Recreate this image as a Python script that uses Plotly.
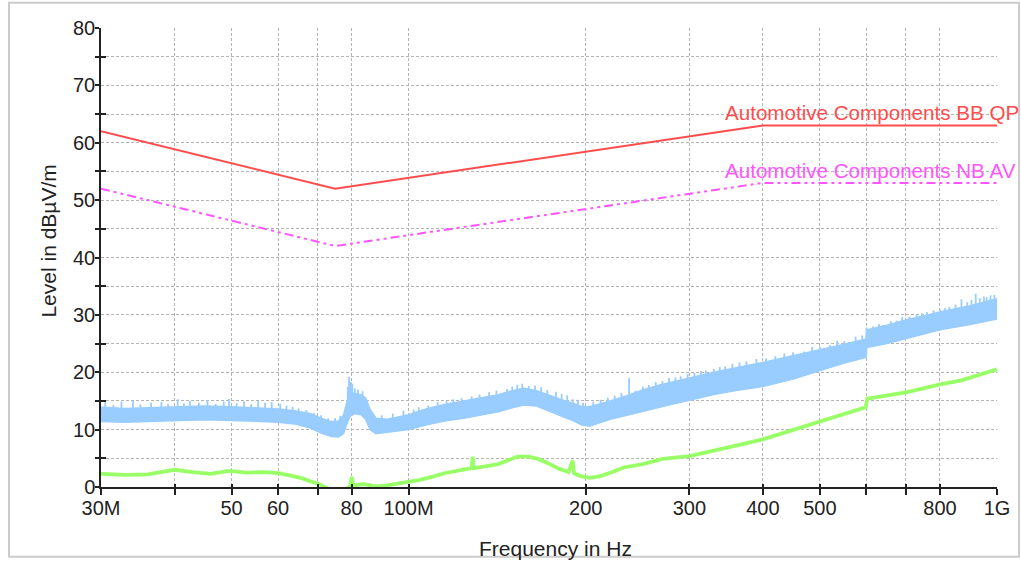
import numpy as np
import plotly.graph_objects as go

# ---------------- data (frequencies in MHz, levels in dBµV/m) ----------------
limit_f = [30, 75, 400, 1000]
bb_qp = [62, 52, 63, 63]
nb_av = [52, 42, 53, 53]

blue_f = [30, 33, 36, 40, 45, 50, 55, 60, 64, 68, 71, 74, 76, 77.5, 78.5, 79.5, 81, 83,
          84.5, 86, 88, 92, 96, 100, 107, 115, 124, 133, 142, 150, 157, 165, 173, 182,
          190, 197, 203, 210, 220, 235, 250, 265, 280, 300, 330, 360, 400, 450, 500,
          550, 599, 601, 650, 700, 750, 800, 900, 1000]
blue_lo = [11.4, 11.3, 11.4, 11.6, 11.7, 11.6, 11.5, 11.3, 11.0, 10.3, 9.4, 8.8, 8.7, 9.3,
           11.0, 12.3, 12.8, 12.6, 11.8, 10.0, 9.3, 9.5, 9.8, 10.0, 10.8, 11.5, 12.0, 12.6,
           13.1, 13.8, 14.3, 14.1, 13.3, 12.4, 11.6, 10.8, 10.6, 11.1, 11.8, 12.5, 13.2,
           13.8, 14.4, 15.1, 16.1, 16.8, 17.5, 18.8, 20.3, 21.6, 22.6, 24.3, 25.0, 25.9,
           26.7, 27.4, 28.3, 29.3]
blue_hi = [13.9, 13.7, 13.8, 14.0, 14.1, 14.0, 13.8, 13.6, 13.3, 12.8, 12.0, 11.4, 11.5,
           12.5, 14.8, 16.5, 16.3, 16.1, 15.5, 13.5, 12.0, 11.8, 12.2, 12.6, 13.6, 14.4,
           15.0, 15.6, 16.1, 16.8, 17.2, 16.8, 16.0, 15.2, 14.6, 14.0, 14.0, 14.4, 15.0,
           15.9, 16.9, 17.7, 18.3, 19.0, 20.0, 20.8, 21.7, 22.9, 23.9, 24.9, 25.8, 27.4,
           28.2, 29.1, 29.8, 30.5, 31.6, 32.8]

spike_f = [30.5, 31.5, 32.5, 34, 35, 36.5, 38, 39, 40.5, 41.5, 42.5, 44, 45.5, 47, 48.5,
           49.5, 51, 52.5, 54, 55.5, 57, 58.5, 60.5, 62, 63.5, 65, 67, 69, 71, 73, 75, 76.5,
           78.8, 79.2, 79.7, 80.2, 81, 82, 83.5,
           90, 94, 98, 102, 104, 108, 112, 116, 119, 123, 128, 132, 137, 141, 147, 150, 153,
           156, 160, 164, 168, 172, 178, 182, 186, 190, 194, 198,
           206, 212, 218, 224, 230, 237, 243, 250, 256, 263, 270, 277, 284, 290, 298, 306,
           314, 320, 330, 338, 345, 355, 365, 375, 390, 405, 420, 435, 450, 470, 485, 500,
           520, 535, 550, 560, 575, 590,
           600, 615, 630, 640, 660, 675, 690, 710, 730, 745, 760, 780, 800, 815, 830, 850,
           870, 890, 905, 920, 935, 950, 960, 975, 990]
spike_top = [14.8, 14.3, 14.9, 15.0, 14.4, 14.7, 14.8, 14.5, 15.3, 14.6, 15.0, 14.7, 15.1,
             14.5, 14.9, 15.4, 14.6, 14.9, 14.4, 15.0, 14.7, 14.8, 14.5, 14.2, 14.0, 13.7,
             13.4, 12.9, 12.5, 12.0, 12.0, 12.4,
             17.5, 19.2, 18.3, 18.0, 17.2, 17.0, 16.7,
             12.5, 12.8, 13.3, 13.5, 13.9, 14.2, 14.8, 15.0, 15.3, 15.5, 15.8, 16.1, 16.5,
             16.8, 17.1, 17.5, 17.8, 18.0, 17.6, 17.7, 17.4, 16.9, 16.6, 16.2, 16.0, 15.3,
             15.2, 14.7,
             14.8, 15.2, 15.6, 15.9, 16.4, 19.0, 16.8, 17.5, 17.8, 18.3, 18.5, 19.0, 19.1,
             19.3, 19.7, 19.9, 20.2, 20.3, 20.6, 20.9, 21.0, 21.5, 21.7, 21.9, 22.3, 22.4,
             22.8, 23.3, 23.5, 23.6, 24.4, 24.5, 24.7, 25.5, 25.4, 25.3, 26.2, 26.4,
             27.8, 28.0, 28.4, 28.3, 28.9, 29.0, 29.6, 29.7, 30.0, 30.3, 30.5, 30.8, 31.0,
             31.2, 31.4, 31.8, 32.7, 32.2, 32.6, 33.7, 32.9, 33.2, 33.1, 33.4, 33.5]

green_f = [30, 33, 36, 40, 43, 46, 49.5, 53, 57, 60, 63, 66, 68, 70, 72, 74, 78, 79.6, 80,
           80.4, 84, 88, 92, 96, 100, 104, 110, 115, 122, 128, 128.5, 129, 135, 142, 148,
           153, 160, 166, 172, 180, 187, 190, 191, 196, 203, 212, 222, 232, 250, 270, 300,
           330, 360, 400, 450, 500, 550, 598, 602, 650, 700, 750, 800, 870, 930, 1000]
green_v = [2.3, 2.1, 2.2, 3.0, 2.6, 2.3, 2.8, 2.5, 2.6, 2.4, 2.0, 1.5, 1.0, 0.6, 0.0, -0.6,
           -0.6, 0.2, 1.8, 0.3, 0.5, 0.1, 0.3, 0.6, 0.9, 1.2, 1.8, 2.4, 2.9, 3.3, 5.3, 3.3,
           3.6, 4.0, 4.7, 5.3, 5.3, 4.9, 4.2, 3.2, 2.6, 4.6, 2.4, 1.9, 1.6, 1.9, 2.6, 3.4,
           4.0, 4.9, 5.4, 6.3, 7.2, 8.3, 9.9, 11.3, 12.7, 13.9, 15.4, 15.9, 16.5, 17.2, 17.9,
           18.6, 19.5, 20.5]

x_tick_f = [30, 40, 50, 60, 70, 80, 100, 200, 300, 400, 500, 600, 700, 800, 1000]
x_tick_text = ["30M", "", "50", "60", "", "80", "100M", "200", "300", "400", "500", "", "",
               "800", "1G"]
y_ticks = list(range(0, 81, 5))
y_tick_text = [str(v) if v % 10 == 0 else "" for v in y_ticks]

label_bb = "Automotive Components BB QP"
label_nb = "Automotive Components NB AV"

# ---------------- figure ----------------
MHZ = 1e6
FONT = "Liberation Sans, Arial, sans-serif"
BLUE = "#99ccff"
GREEN = "#99ff66"
RED = "#ff4d4d"
MAG = "#ff55ff"


def hz(lst):
    return [v * MHZ for v in lst]


fig = go.Figure()

# blue peak band
fig.add_trace(go.Scatter(x=hz(blue_f), y=blue_lo, mode="lines",
                         line=dict(color=BLUE, width=1.5), showlegend=False,
                         hoverinfo="skip"))
fig.add_trace(go.Scatter(x=hz(blue_f), y=blue_hi, mode="lines", fill="tonexty",
                         fillcolor=BLUE, line=dict(color=BLUE, width=1.5),
                         showlegend=False, hoverinfo="skip"))
# spikes on blue trace
sx, sy = [], []
for f, top in zip(spike_f, spike_top):
    base = float(np.interp(np.log10(f), np.log10(blue_f), blue_hi))
    sx += [f * MHZ, f * MHZ, None]
    sy += [base - 1.0, top, None]
fig.add_trace(go.Scatter(x=sx, y=sy, mode="lines", line=dict(color=BLUE, width=1.8),
                         showlegend=False, hoverinfo="skip", connectgaps=False))

# green average trace
fig.add_trace(go.Scatter(x=hz(green_f), y=green_v, mode="lines",
                         line=dict(color=GREEN, width=3.8), showlegend=False))

# limit lines
fig.add_trace(go.Scatter(x=hz(limit_f), y=bb_qp, mode="lines",
                         line=dict(color=RED, width=2), showlegend=False))
fig.add_trace(go.Scatter(x=hz(limit_f), y=nb_av, mode="lines",
                         line=dict(color=MAG, width=2, dash="9px,4px,3px,4px,3px,4px"),
                         showlegend=False))

xr = [np.log10(30 * MHZ), np.log10(1000 * MHZ)]
grid = dict(showgrid=True, gridcolor="#b4b4b4", gridwidth=1, griddash="3px,2px")

fig.update_layout(
    width=1021, height=562,
    margin=dict(l=101, r=24, t=28, b=75),
    paper_bgcolor="white", plot_bgcolor="white",
    font=dict(family=FONT, size=20, color="#222222"),
    xaxis=dict(type="log", range=xr, tickvals=hz(x_tick_f), ticktext=x_tick_text,
               ticks="outside", ticklen=6, tickcolor="#222", tickwidth=1.5,
               showline=True, linecolor="#222", linewidth=1.5, zeroline=False,
               tickfont=dict(size=20), ticklabelstandoff=-4, **grid),
    yaxis=dict(range=[0, 80], tickvals=y_ticks, ticktext=y_tick_text,
               ticks="outside", ticklen=4, tickcolor="#222", tickwidth=1.5,
               showline=True, linecolor="#222", linewidth=1.5, zeroline=False,
               tickfont=dict(size=20), ticklabelstandoff=-4, **grid),
    xaxis2=dict(type="log", range=xr, overlaying="x", anchor="y", side="bottom",
                tickvals=hz(x_tick_f), ticks="inside", ticklen=3, tickcolor="#222",
                tickwidth=1.5, showticklabels=False, showgrid=False, zeroline=False,
                showline=False),
    yaxis2=dict(range=[0, 80], overlaying="y", anchor="x", side="left",
                tickvals=[v for v in y_ticks if v % 10 == 5], ticks="inside", ticklen=5,
                tickcolor="#222", tickwidth=1.5, showticklabels=False, showgrid=False,
                zeroline=False, showline=False),
)

# hidden trace to activate overlay axes (point lies outside the visible range)
fig.add_trace(go.Scatter(x=[30 * MHZ], y=[-50], xaxis="x2", yaxis="y2", mode="markers",
                         marker=dict(opacity=0), showlegend=False, hoverinfo="skip"))

# labels of limit lines
label_f = 342 * MHZ
fig.add_annotation(x=np.log10(label_f), y=65.3, text=label_bb, showarrow=False,
                   xanchor="left", yanchor="middle",
                   font=dict(family=FONT, size=20.6, color=RED))
fig.add_annotation(x=np.log10(label_f), y=55.2, text=label_nb, showarrow=False,
                   xanchor="left", yanchor="middle",
                   font=dict(family=FONT, size=20.6, color=MAG))

# axis titles
fig.add_annotation(xref="paper", yref="paper", x=0.507, y=-0.134,
                   text="Frequency in Hz", showarrow=False,
                   xanchor="center", yanchor="middle", font=dict(size=21))
fig.add_annotation(xref="paper", yref="paper", x=-0.059, y=0.535,
                   text="Level in dBµV/m", showarrow=False, textangle=-90,
                   xanchor="center", yanchor="middle", font=dict(size=21))

# outer frame
fig.add_shape(type="rect", xref="paper", yref="paper",
              x0=-0.1027, x1=1.0246, y0=-0.152, y1=1.055,
              line=dict(color="#cccccc", width=2), fillcolor="rgba(0,0,0,0)",
              layer="below")

fig.write_html("out.html")
